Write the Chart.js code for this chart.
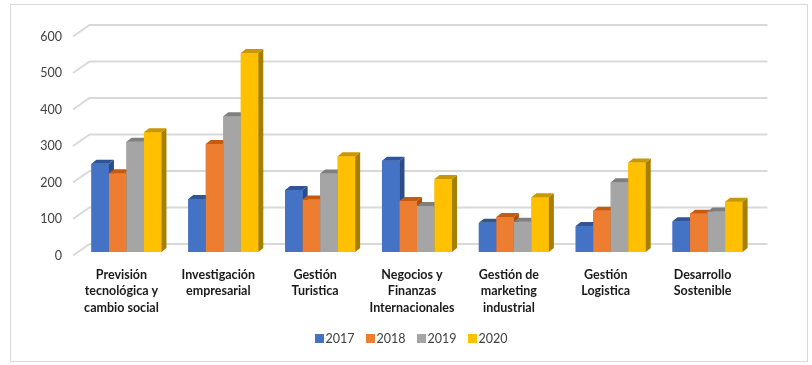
<!DOCTYPE html>
<html>
<head>
<meta charset="utf-8">
<script src="https://cdn.jsdelivr.net/npm/chart.js@4/dist/chart.umd.min.js"></script>
<style>
  html, body { margin: 0; padding: 0; background: #ffffff; }
  #wrap { position: relative; width: 812px; height: 365px; }
  #legend {
    position: absolute; left: 0; width: 822px; top: 330px; height: 16px;
    display: flex; justify-content: center; align-items: center;
    font-family: Lato, sans-serif; font-size: 12.5px; color: #404040;
  }
  .item { display: flex; align-items: center; margin: 0 5.5px; }
  .box { width: 9px; height: 9px; margin-right: 2px; }
</style>
</head>
<body>
<div id="wrap"><canvas id="c" width="812" height="365"></canvas><div id="legend"></div></div>
<script>
const categories = [
  ["Previsión", "tecnológica y", "cambio social"],
  ["Investigación", "empresarial"],
  ["Gestión", "Turistica"],
  ["Negocios y", "Finanzas", "Internacionales"],
  ["Gestión de", "marketing", "industrial"],
  ["Gestión", "Logistica"],
  ["Desarrollo", "Sostenible"]
];
const seriesNames = ["2017", "2018", "2019", "2020"];
const values2017 = [242, 145, 170, 250, 80, 71, 84];
const values2018 = [216, 296, 144, 140, 96, 113, 105];
const values2019 = [302, 372, 215, 126, 83, 191, 111];
const values2020 = [328, 545, 262, 200, 150, 245, 138];
const yTicks = [0, 100, 200, 300, 400, 500, 600];

const frontColors = ["#4472C4", "#ED7D31", "#A5A5A5", "#FFC000"];
const topColors   = ["#2F5597", "#C55A11", "#7F7F7F", "#C99700"];
const sideColors  = ["#2B4C86", "#A84F12", "#737373", "#A67F00"];

// 3D geometry (relative to bar plane)
const BAR_DX = 5, BAR_DY = 4;
const FRONT_DX = -5, FRONT_DY = 3.5;
const BACK_DX = 11.5, BACK_DY = -8;

const borderPlugin = {
  id: 'frame',
  beforeDraw(chart) {
    const ctx = chart.ctx;
    ctx.save();
    ctx.fillStyle = '#ffffff';
    ctx.fillRect(0, 0, chart.width, chart.height);
    ctx.strokeStyle = '#d9d9d9';
    ctx.lineWidth = 1;
    ctx.strokeRect(10.5, 4.5, 797, 357);
    ctx.restore();
  }
};

const gridPlugin = {
  id: 'grid3d',
  beforeDatasetsDraw(chart) {
    const ctx = chart.ctx;
    const y = chart.scales.y;
    const area = chart.chartArea;
    ctx.save();
    ctx.strokeStyle = '#d9d9d9';
    ctx.lineWidth = 2;
    yTicks.forEach(v => {
      const py = y.getPixelForValue(v);
      ctx.beginPath();
      ctx.moveTo(area.left + FRONT_DX, py + FRONT_DY);
      ctx.lineTo(area.left + BACK_DX, py + BACK_DY);
      ctx.lineTo(area.right + BACK_DX, py + BACK_DY);
      ctx.stroke();
    });
    ctx.restore();
  }
};

const bars3dPlugin = {
  id: 'bars3d',
  afterDatasetsDraw(chart) {
    const ctx = chart.ctx;
    const n = chart.data.labels.length;
    ctx.save();
    for (let i = 0; i < n; i++) {
      for (let d = 0; d < chart.data.datasets.length; d++) {
        const el = chart.getDatasetMeta(d).data[i];
        const p = el.getProps(['x', 'y', 'base', 'width'], true);
        const l = p.x - p.width / 2, r = p.x + p.width / 2;
        const t = p.y, b = p.base;
        ctx.fillStyle = frontColors[d];
        ctx.fillRect(l, t, r - l, b - t);
        ctx.fillStyle = sideColors[d];
        ctx.beginPath();
        ctx.moveTo(r, t);
        ctx.lineTo(r + BAR_DX, t - BAR_DY);
        ctx.lineTo(r + BAR_DX, b - BAR_DY);
        ctx.lineTo(r, b);
        ctx.closePath();
        ctx.fill();
        ctx.fillStyle = topColors[d];
        ctx.beginPath();
        ctx.moveTo(l, t);
        ctx.lineTo(l + BAR_DX, t - BAR_DY);
        ctx.lineTo(r + BAR_DX, t - BAR_DY);
        ctx.lineTo(r, t);
        ctx.closePath();
        ctx.fill();
      }
    }
    ctx.restore();
  }
};

const allValues = [values2017, values2018, values2019, values2020];

// HTML legend built from the series
const legendEl = document.getElementById('legend');
seriesNames.forEach((name, k) => {
  const item = document.createElement('div');
  item.className = 'item';
  const box = document.createElement('span');
  box.className = 'box';
  box.style.background = frontColors[k];
  const txt = document.createElement('span');
  txt.textContent = name;
  item.appendChild(box);
  item.appendChild(txt);
  legendEl.appendChild(item);
});

new Chart(document.getElementById('c'), {
  type: 'bar',
  data: {
    labels: categories,
    datasets: seriesNames.map((name, k) => ({
      label: name,
      data: allValues[k],
      backgroundColor: frontColors[k],
      borderWidth: 0,
      categoryPercentage: 0.723,
      barPercentage: 1.0
    }))
  },
  options: {
    responsive: false,
    animation: false,
    devicePixelRatio: 1,
    layout: { padding: { left: 10, right: 0, top: 33, bottom: 43 } },
    plugins: {
      tooltip: { enabled: false },
      legend: { display: false }
    },
    scales: {
      x: {
        grid: { display: false, drawTicks: false },
        border: { display: false },
        ticks: {
          color: '#1a1a1a',
          padding: 15,
          labelOffset: -5,
          maxRotation: 0,
          autoSkip: false,
          font: { family: 'Lato', size: 12.5, weight: 'bold', lineHeight: 1.3 }
        },
        afterFit(s) { s.height = 70; }
      },
      y: {
        min: 0,
        max: 600,
        grid: { display: false, drawTicks: false },
        border: { display: false },
        ticks: {
          stepSize: 100,
          color: '#404040',
          padding: 16,
          labelOffset: 3.5,
          font: { family: 'Lato', size: 12.5 }
        },
        afterFit(s) { s.width = 68; }
      },
      y2: {
        position: 'right',
        display: true,
        grid: { display: false, drawTicks: false },
        border: { display: false },
        ticks: { display: false },
        afterFit(s) { s.width = 56; }
      }
    }
  },
  plugins: [borderPlugin, gridPlugin, bars3dPlugin]
});
</script>
</body>
</html>
